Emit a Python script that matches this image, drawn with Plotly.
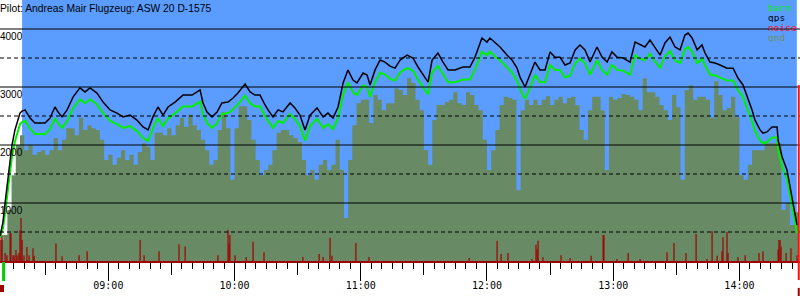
import plotly.graph_objects as go
from datetime import datetime, timedelta

# ---------------- data ----------------
title_text = "Pilot: Andreas Mair Flugzeug: ASW 20 D-1575"
legend_items = ["baro", "gps", "noise", "gnd"]

# sample times in minutes after 08:00
gps_min = [8.5, 9.9, 10.9, 12.3, 13.3, 14.2, 15.6, 17.1, 18.0, 19.0,
           20.4, 22.8, 25.1, 27.5, 29.9, 32.3, 34.6, 36.1, 38.0, 40.4,
           43.2, 46.5, 48.9, 51.3, 54.6, 57.5, 60.8, 64.1, 67.0, 70.3,
           73.6, 76.5, 78.9, 81.2, 83.6, 86.0, 88.4, 91.7, 95.5, 99.8,
           103.6, 105.0, 106.9, 109.3, 111.7, 114.0, 116.9, 119.3, 121.6, 125.0,
           127.4, 129.7, 132.1, 134.5, 135.9, 138.3, 140.7, 143.0, 146.4, 148.7,
           151.1, 153.5, 155.9, 159.2, 162.1, 164.4, 166.8, 169.2, 171.6, 173.9,
           176.3, 178.2, 181.1, 183.0, 184.4, 186.8, 189.2, 191.5, 193.9, 196.3,
           198.7, 202.0, 204.8, 207.2, 209.6, 212.0, 213.9, 216.7, 219.1, 221.5,
           224.8, 228.6, 231.9, 234.3, 237.6, 240.0, 241.4, 243.8, 246.2, 249.5,
           251.9, 254.3, 255.7, 258.1, 260.5, 262.8, 265.2, 267.6, 270.0, 272.3,
           274.7, 277.1, 279.5, 281.9, 284.2, 286.6, 289.0, 292.3, 294.7, 297.1,
           299.4, 301.8, 304.7, 308.0, 310.4, 312.8, 315.1, 317.5, 319.9, 322.3,
           324.6, 327.0, 329.4, 331.8, 334.1, 335.6, 337.5, 339.9, 342.2, 343.7,
           346.0, 348.4, 350.8, 354.1, 357.0, 359.3, 361.7, 364.1, 366.0, 367.4,
           369.8, 371.2, 373.1, 375.5, 377.9, 378.4, 380.3, 382.6, 384.1, 385.5,
           387.4]

gps_alt = [430, 670, 1000, 1395, 1740, 2000, 2260, 2465, 2550, 2585,
           2605, 2465, 2380, 2380, 2380, 2465, 2655, 2570, 2485, 2605,
           2825, 2985, 2915, 2985, 2895, 2740, 2605, 2550, 2485, 2515,
           2430, 2310, 2260, 2485, 2655, 2515, 2655, 2740, 2860, 2860,
           2950, 2725, 2570, 2485, 2570, 2725, 2740, 2810, 2895, 3050,
           2915, 2860, 2860, 2690, 2605, 2485, 2605, 2570, 2725, 2640,
           2515, 2260, 2515, 2640, 2485, 2550, 2465, 2655, 3070, 3295,
           3120, 3070, 3240, 3205, 3035, 3295, 3465, 3430, 3360, 3325,
           3465, 3550, 3500, 3345, 3205, 3085, 3465, 3585, 3430, 3295,
           3295, 3345, 3345, 3515, 3845, 3775, 3845, 3760, 3690, 3550,
           3465, 3325, 3170, 3000, 3205, 3430, 3295, 3295, 3605, 3515,
           3515, 3380, 3415, 3640, 3725, 3640, 3430, 3690, 3515, 3430,
           3605, 3515, 3500, 3430, 3775, 3725, 3690, 3810, 3670, 3550,
           3760, 3860, 3690, 3640, 3895, 3930, 3845, 3640, 3725, 3585,
           3430, 3415, 3380, 3325, 3325, 3155, 3035, 2810, 2605, 2430,
           2260, 2205, 2225, 2310, 2310, 2085, 1795, 1570, 1275, 1050,
           620]

baro_alt = [400, 560, 820, 1200, 1550, 1800, 2060, 2270, 2360, 2395,
            2420, 2280, 2190, 2190, 2185, 2275, 2460, 2380, 2295, 2410,
            2630, 2790, 2720, 2790, 2700, 2550, 2415, 2360, 2295, 2325,
            2240, 2120, 2070, 2290, 2460, 2325, 2460, 2545, 2665, 2665,
            2750, 2535, 2380, 2295, 2380, 2535, 2550, 2615, 2700, 2850,
            2720, 2665, 2665, 2500, 2415, 2295, 2415, 2380, 2535, 2450,
            2325, 2075, 2325, 2450, 2295, 2360, 2275, 2460, 2860, 3080,
            2910, 2860, 3030, 2995, 2830, 3080, 3250, 3215, 3145, 3110,
            3250, 3330, 3280, 3130, 2990, 2875, 3250, 3365, 3215, 3080,
            3080, 3130, 3130, 3295, 3610, 3545, 3610, 3525, 3460, 3330,
            3250, 3110, 2960, 2795, 2990, 3210, 3080, 3080, 3380, 3295,
            3295, 3165, 3200, 3410, 3490, 3410, 3210, 3460, 3295, 3210,
            3380, 3295, 3280, 3210, 3545, 3490, 3460, 3575, 3440, 3330,
            3525, 3620, 3460, 3410, 3655, 3690, 3610, 3410, 3490, 3365,
            3215, 3200, 3165, 3110, 3110, 2945, 2830, 2610, 2410, 2240,
            2080, 2030, 2050, 2130, 2130, 1920, 1630, 1410, 1120, 900,
            480]

# ground elevation, one value every 2 minutes from 08:08
gnd_start_min = 8.0
gnd_step_min = 2.0
gnd_alt = [360, 450, 880, 1480, 2000, 2170, 1910, 2000, 1830, 1880,
           1910, 1830, 1910, 2120, 1910, 2090, 2290, 2290, 2170, 2470,
           2260, 2340, 2290, 2260, 2090, 1740, 1830, 1660, 1780, 1910,
           1740, 1830, 1660, 1880, 2030, 1970, 1740, 2210, 2210, 2170,
           2290, 2170, 2340, 2470, 2310, 2520, 2340, 2260, 2090, 1910,
           1660, 1740, 2260, 2570, 2290, 1400, 2290, 2670, 2670, 2430,
           2090, 1740, 1480, 1570, 1660, 1910, 2210, 2260, 2260, 2170,
           2120, 2050, 1740, 1480, 1570, 1400, 1660, 1740, 1570, 1660,
           2090, 1570, 740, 1740, 2340, 2720, 2780, 2780, 2380, 2860,
           2780, 2600, 2720, 2720, 2980, 2950, 2860, 3150, 3070, 2780,
           2600, 1910, 1660, 2430, 2690, 2690, 2740, 2780, 2910, 2720,
           2690, 2910, 2860, 2690, 2600, 2090, 1570, 1910, 2260, 2690,
           2830, 2810, 2780, 1220, 2600, 2780, 2690, 2780, 2690, 2780,
           2840, 2690, 2780, 2830, 2720, 2810, 2830, 2690, 2260, 2090,
           2600, 2830, 2830, 2600, 1570, 2830, 2780, 2810, 2880, 2860,
           2830, 2780, 2600, 3150, 2910, 2910, 2830, 2690, 2600, 2430,
           2860, 2650, 1400, 2950, 3030, 2780, 2830, 2830, 2780, 2470,
           3100, 2860, 2600, 2640, 2830, 2480, 1480, 1400, 1660, 1910,
           1910, 1910, 2030, 2030, 2030, 2030, 880, 1000, 620, 840,
           710]

noise_min = [9.0, 9.5, 10.9, 11.8, 13.3, 13.7, 14.7, 15.2, 16.1, 16.6,
             17.5, 18.0, 18.5, 19.0, 19.9, 21.3, 22.3, 24.2, 24.7, 35.1,
             38.0, 46.1, 49.9, 75.1, 77.0, 84.1, 93.6, 96.5, 112.1, 116.9,
             117.4, 117.8, 120.2, 125.5, 128.8, 134.0, 152.5, 160.2, 162.1, 165.4,
             166.3, 177.7, 183.9, 231.5, 244.8, 246.7, 250.0, 261.4, 263.3, 263.8,
             264.3, 266.6, 275.2, 279.5, 289.5, 295.2, 295.6, 301.8, 307.1, 312.8,
             325.6, 328.9, 334.6, 339.4, 344.6, 347.0, 349.4, 351.7, 352.2, 354.1,
             354.6, 359.3, 362.7, 369.3, 371.2, 378.4, 378.8, 379.3, 379.8, 382.2,
             384.5, 387.4]
noise_val = [450, 450, 140, 100, 480, 480, 100, 100, 190, 100,
             140, 530, 740, 360, 100, 240, 100, 220, 90, 300,
             80, 100, 170, 360, 100, 170, 290, 250, 100, 540,
             300, 450, 100, 70, 330, 150, 70, 120, 70, 400,
             90, 310, 70, 50, 350, 120, 140, 35, 280, 200,
             350, 70, 100, 50, 90, 450, 450, 35, 140, 35,
             150, 310, 140, 465, 35, 515, 90, 170, 410, 500,
             140, 70, 100, 140, 170, 200, 360, 360, 250, 140,
             220, 100]

y_solid = [1000, 2000, 3000, 4000]
y_dashed = [500, 1500, 2500, 3500]
y_range = [0, 4500]

x_start_min = 8.5
x_end_min = 388.8
flight_start_min = 19.0   # blue sky panel
flight_end_min = 387.3
takeoff_min = 10.2
landing_min = 388.2

# ---------------- styles ----------------
SKY = "#5a9cff"
GND = "#688b66"
BARO = "#00f000"
NOISE = "#a00000"
RED = "#ff1010"

base = datetime(2024, 6, 1, 8, 0)


def tm(m):
    return base + timedelta(minutes=m)


gps_t = [tm(m) for m in gps_min]
gnd_t = [tm(gnd_start_min + gnd_step_min * i) for i in range(len(gnd_alt))]

nx, ny = [], []
for m, v in zip(noise_min, noise_val):
    nx += [tm(m), tm(m), None]
    ny += [0, v, None]

fig = go.Figure()
fig.add_trace(go.Scatter(x=gnd_t, y=gnd_alt, mode="lines", line=dict(width=0, shape="hv"),
                         fill="tozeroy", fillcolor=GND, hoverinfo="skip"))
fig.add_trace(go.Scatter(x=nx, y=ny, mode="lines", line=dict(color=NOISE, width=1.2)))
fig.add_trace(go.Scatter(x=gps_t, y=baro_alt, mode="lines", line=dict(color=BARO, width=2)))
fig.add_trace(go.Scatter(x=gps_t, y=gps_alt, mode="lines", line=dict(color="black", width=1.5)))
fig.add_trace(go.Scatter(x=[], y=[], xaxis="x2", yaxis="y"))

shapes = []
shapes.append(dict(type="rect", xref="x", yref="paper", x0=tm(flight_start_min), x1=tm(flight_end_min),
                   y0=0, y1=1, fillcolor=SKY, line=dict(width=0), layer="below"))
for v in y_solid:
    shapes.append(dict(type="line", xref="paper", yref="y", x0=0, x1=1, y0=v, y1=v,
                       line=dict(color="black", width=1), layer="above"))
for v in y_dashed:
    shapes.append(dict(type="line", xref="paper", yref="y", x0=0, x1=1, y0=v, y1=v,
                       line=dict(color="black", width=1, dash="4px,3px"), layer="above"))
# takeoff / landing markers
shapes.append(dict(type="rect", xref="x", yref="paper", x0=tm(takeoff_min - 0.7), x1=tm(takeoff_min + 0.7),
                   y0=-0.077, y1=-0.004, fillcolor="#00d000", line=dict(width=0), layer="above"))
shapes.append(dict(type="rect", xref="paper", yref="paper", x0=0, x1=0.005,
                   y0=-0.119, y1=-0.092, fillcolor=NOISE, line=dict(width=0), layer="above"))
shapes.append(dict(type="line", xref="x", yref="paper", x0=tm(landing_min), x1=tm(landing_min),
                   y0=-0.073, y1=0.674, line=dict(color=RED, width=2), layer="above"))
shapes.append(dict(type="line", xref="x", yref="paper", x0=tm(landing_min), x1=tm(landing_min),
                   y0=-0.134, y1=-0.103, line=dict(color=NOISE, width=2), layer="above"))

annotations = []
annotations.append(dict(text=title_text, xref="paper", yref="paper", x=0, y=0.969,
                        xanchor="left", yanchor="middle", showarrow=False, xshift=-2,
                        font=dict(family="Liberation Sans", size=10.3, color="black")))
for v in y_solid:
    annotations.append(dict(text=str(v), xref="paper", yref="y", x=0, y=v, xanchor="left",
                            yanchor="top", showarrow=False, xshift=-2,
                            font=dict(family="Liberation Sans", size=10, color="black")))
leg_colors = [BARO, "black", RED, "#6f8f5c"]
leg_y = [0.975, 0.936, 0.898, 0.860]
for name, c, yy in zip(legend_items, leg_colors, leg_y):
    annotations.append(dict(text=name, xref="paper", yref="paper", x=0.96, y=yy, xanchor="left",
                            yanchor="middle", showarrow=False, xshift=-1, height=10, borderpad=0,
                            font=dict(family="DejaVu Sans Mono", size=9.5, color=c)))

fig.update_layout(
    width=800, height=300,
    margin=dict(l=0, r=0, t=0, b=39),
    plot_bgcolor="white", paper_bgcolor="white",
    showlegend=False,
    shapes=shapes, annotations=annotations,
    xaxis=dict(type="date", range=[tm(x_start_min), tm(x_end_min)], showgrid=False, zeroline=False,
               tickformat="%H:%M", dtick=3600000, tick0=tm(60), ticks="outside", ticklen=18,
               tickcolor="black", tickwidth=1, ticklabelstandoff=-4,
               tickfont=dict(family="DejaVu Sans Mono", size=10, color="black"),
               showline=True, linecolor=NOISE, linewidth=2,
               minor=dict(dtick=300000, tick0=tm(60), ticks="outside", ticklen=6,
                          tickcolor="black", tickwidth=1, showgrid=False)),
    xaxis2=dict(type="date", range=[tm(x_start_min), tm(x_end_min)], overlaying="x", anchor="y",
                side="bottom", showgrid=False, zeroline=False, showticklabels=False,
                dtick=1800000, tick0=tm(60), ticks="outside", ticklen=13, tickcolor="black",
                tickwidth=1, showline=False),
    yaxis=dict(range=y_range, showgrid=False, zeroline=False, showticklabels=False, ticks=""),
)

fig.write_html("out.html")
